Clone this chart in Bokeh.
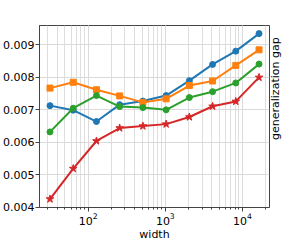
import math
from bokeh.plotting import figure
from bokeh.models import Range1d, FixedTicker, PrintfTickFormatter, LogTicker, LinearAxis
from bokeh.embed import file_html
from bokeh.resources import INLINE

widths = [32, 64, 128, 256, 512, 1024, 2048, 4096, 8192, 16384]
blue = [0.00713, 0.00699, 0.00664, 0.00716, 0.00727, 0.00744, 0.00790, 0.00840, 0.00881, 0.00935]
orange = [0.00767, 0.00785, 0.00762, 0.00743, 0.00723, 0.00734, 0.00775, 0.00789, 0.00837, 0.00885]
green = [0.00632, 0.00705, 0.00744, 0.00710, 0.00707, 0.00700, 0.00738, 0.00756, 0.00783, 0.00841]
red = [0.00425, 0.00519, 0.00604, 0.00644, 0.00650, 0.00656, 0.00678, 0.00711, 0.00726, 0.00800]
y_ticks = [0.004, 0.005, 0.006, 0.007, 0.008, 0.009]
y_label = "generalization gap"

FONT = "DejaVu Sans"
X0, X1 = 23.4, 22390
Y0, Y1 = 0.00399, 0.0096
FRAME_W, FRAME_H = 230, 182
p = figure(frame_width=FRAME_W, frame_height=FRAME_H, x_axis_type="log",
           x_range=Range1d(X0, X1), y_range=Range1d(Y0, Y1),
           output_backend="svg", toolbar_location=None,
           min_border_left=0, min_border_right=22, min_border_top=25, min_border_bottom=0)
p.title.visible = False

p.xaxis.ticker = LogTicker(num_minor_ticks=10)
p.yaxis.ticker = FixedTicker(ticks=y_ticks)
p.yaxis.formatter = PrintfTickFormatter(format="%.3f")

for ax in (p.xaxis[0], p.yaxis[0]):
    ax.major_label_text_font = FONT
    ax.major_label_text_font_size = "11px"
    ax.major_label_text_color = "black"
    ax.axis_label_text_font = FONT
    ax.axis_label_text_font_size = "11px"
    ax.axis_label_text_font_style = "normal"
    ax.axis_label_text_color = "black"
    ax.axis_line_color = "#444444"
    ax.major_tick_line_color = "#444444"
    ax.minor_tick_line_color = "#444444"
    ax.major_tick_in = 0
    ax.major_tick_out = 4
    ax.minor_tick_in = 0
    ax.minor_tick_out = 2
    ax.major_label_standoff = 1
p.yaxis.minor_tick_line_color = None
p.xaxis.axis_label = "width"
p.xaxis.axis_label_standoff = 0

# right-side y label, drawn as a single rotated tick label (reads bottom-to-top)
LABEL_SHIFT_PX = 23.5
label_pos = (Y0 + Y1) / 2 - LABEL_SHIFT_PX / FRAME_H * (Y1 - Y0)
right = LinearAxis(ticker=FixedTicker(ticks=[label_pos]))
right.major_label_overrides = {label_pos: y_label}
right.major_label_orientation = math.pi / 2
right.major_label_text_font = FONT
right.major_label_text_font_size = "11px"
right.major_label_text_color = "black"
right.major_label_standoff = 6
right.major_tick_in = 0
right.major_tick_out = 0
right.major_tick_line_color = None
right.minor_tick_line_color = None
right.axis_line_color = None
p.add_layout(right, "right")

p.outline_line_color = "#444444"
p.xgrid.grid_line_color = "#dadada"
p.xgrid.minor_grid_line_color = "#dedede"
p.ygrid.grid_line_color = "#dadada"
p.background_fill_color = "white"
p.border_fill_color = "white"

series = [(blue, "#1f77b4", "circle", 6), (orange, "#ff7f0e", "square", 6),
          (green, "#2ca02c", "circle", 6), (red, "#d62728", "star", 8)]
for vals, col, mk, sz in series:
    p.line(widths, vals, line_color=col, line_width=2)
    p.scatter(widths, vals, marker=mk, size=sz, fill_color=col, line_color=col)

open("out.html", "w").write(file_html(p, INLINE))
